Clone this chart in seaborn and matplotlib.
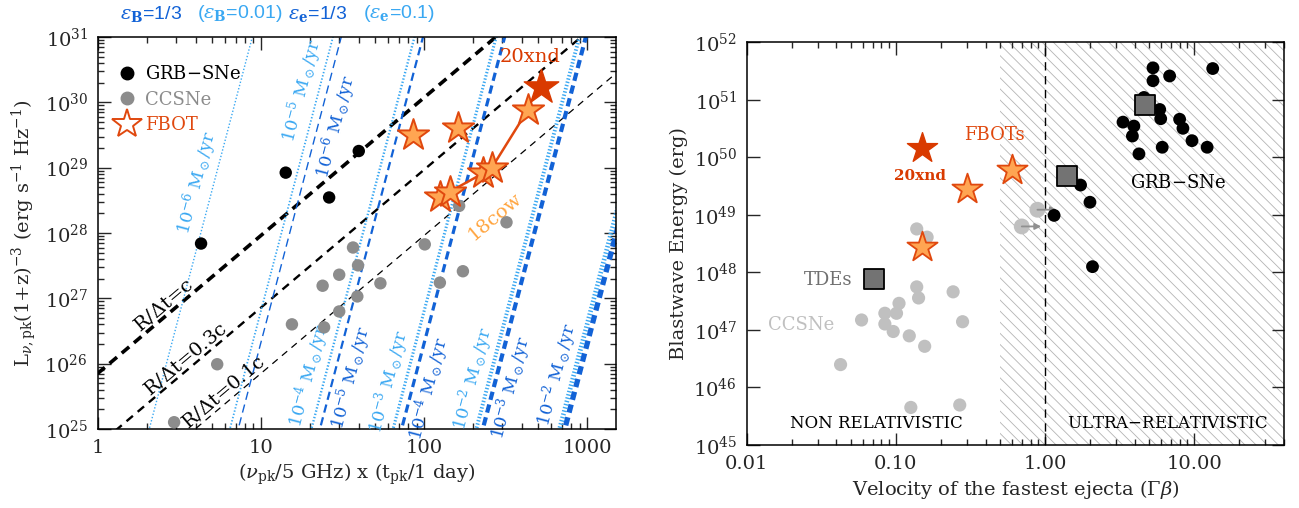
import numpy as np
import pandas as pd
import matplotlib
matplotlib.use("Agg")
import matplotlib.pyplot as plt
import seaborn as sns
from matplotlib.lines import Line2D
from matplotlib.ticker import FixedLocator, FixedFormatter, LogLocator, NullFormatter, NullLocator
import matplotlib.transforms as mtransforms

# ---------------- left panel data ----------------
grb_nut = [4.3, 14.2, 26.2, 39.8]
grb_lum = [6.9e27, 8.4e28, 3.5e28, 1.8e29]

cc_nut = [2.94, 5.4, 15.5, 23.9, 24.4, 30.2, 30.2, 36.7, 39.4, 39.0, 54.0, 101, 125, 164, 173, 320]
cc_lum = [1.27e25, 9.8e25, 4.0e26, 1.56e27, 3.6e26, 2.3e27, 6.3e26, 6.0e27, 3.2e27, 1.07e27,
          1.7e27, 6.7e27, 1.74e27, 2.6e28, 2.6e27, 1.46e28]

fbot_nut = [85.7, 161.6]
fbot_lum = [3.2e29, 4.0e29]

cow_nut = [124.8, 143.7, 230, 259, 433]
cow_lum = [3.6e28, 4.3e28, 8.2e28, 9.8e28, 7.7e29]

xnd_nut = [518]
xnd_lum = [1.74e30]

# R/dt lines: L = L0 (beta x)^(19/9)
beta_vals = [1.0, 0.3, 0.1]
beta_names = ["R/$\\Delta$t=c", "R/$\\Delta$t=0.3c", "R/$\\Delta$t=0.1c"]
L0 = 10 ** 25.85

# mass-loss lines: L = 1e25 (x / x25)^9.5
mdot_lo_exp = [-6, -5, -4, -3, -2, -1]          # eps_B = 0.01
mdot_lo_x25 = [2.07, 6.46, 20.4, 64.6, 209, 677]
mdot_hi_exp = [-6, -5, -4, -3, -2]              # eps_B = 1/3
mdot_hi_x25 = [7.26, 23.0, 72.8, 229, 728]
mdot_lo_lab = [10 ** 28.71, 10 ** 30.12, 10 ** 25.75, 10 ** 25.66, 10 ** 25.70, None]
mdot_hi_lab = [10 ** 29.70, 10 ** 25.85, 10 ** 25.68, 10 ** 25.70, 10 ** 25.75]
mdot_hi_side = [1, 1, 1, 1, -1]                 # 1: right of line, -1: left

# ---------------- right panel data ----------------
grb_v = [5.29, 13.3, 6.84, 5.29, 4.6, 5.87, 5.96, 3.33, 3.94, 7.98, 8.4, 3.85, 9.66, 6.1, 12.2,
         4.26, 1.73, 2.0, 1.15, 2.08]
grb_E = [3.6e51, 3.5e51, 2.6e51, 2.15e51, 1.1e51, 6.8e50, 4.7e50, 4.1e50, 3.5e50, 4.6e50, 3.2e50,
         2.35e50, 1.95e50, 1.5e50, 1.5e50, 1.15e50, 3.3e49, 1.66e49, 9.8e48, 1.26e48]
sq_v = [4.65, 1.40]
sq_E = [8e50, 4.8e49]
tde_v = [0.0716]
tde_E = [7.6e47]
lim_v = [0.889, 0.698]
lim_E = [1.23e49, 6.3e48]
ccr_v = [0.138, 0.162, 0.138, 0.242, 0.142, 0.105, 0.0844, 0.101, 0.0589, 0.0844, 0.28, 0.096,
         0.123, 0.156, 0.0426, 0.126, 0.268]
ccr_E = [5.7e48, 4.1e48, 5.6e47, 4.6e47, 3.6e47, 2.9e47, 1.95e47, 1.95e47, 1.49e47, 1.27e47,
         1.39e47, 9.4e46, 7.9e46, 5.2e46, 2.5e46, 4.5e45, 4.96e45]
fbr_v = [0.149, 0.298, 0.596]
fbr_E = [2.8e48, 2.8e49, 6.0e49]
xndr_v = [0.149]
xndr_E = [1.45e50]

# colours
DARKB = "#1262d6"
LIGHTB = "#3aa8f2"
STARF = "#ffa552"
STARE = "#e0480e"
XND = "#d93a00"

sns.set_style("ticks")
plt.rcParams["font.family"] = ["DejaVu Serif"]
plt.rcParams["mathtext.fontset"] = "dejavuserif"
plt.rcParams["lines.scale_dashes"] = False
plt.rcParams["hatch.linewidth"] = 0.6
plt.rcParams["hatch.color"] = "#b4b4b4"

fig = plt.figure(figsize=(12.99, 5.08), dpi=100)
ax1 = fig.add_axes([0.0752, 0.1555, 0.399, 0.7716])
ax2 = fig.add_axes([0.5748, 0.124, 0.4137, 0.7927])

# ================= LEFT =================
ax1.set_xscale("log")
ax1.set_yscale("log")
ax1.set_xlim(1, 1500)
ax1.set_ylim(1e25, 1e31)

xx = np.array([0.5, 3000.0])
for beta, lw, dash in zip(beta_vals, [2.6, 1.7, 0.9], [(7, 4.5), (6, 4.5), (5, 4)]):
    ax1.plot(xx, L0 * (beta * xx) ** (19 / 9), color="k", lw=lw, dashes=dash, zorder=2)

lw_lo = [1.0, 1.3, 1.7, 2.2, 2.8, 3.4]
lw_hi = [1.0, 1.6, 2.3, 3.0, 3.8]
for x25, lw in zip(mdot_lo_x25, lw_lo):
    xs = np.array([x25 * 0.8, x25 * 10 ** (6.5 / 9.5)])
    ax1.plot(xs, 1e25 * (xs / x25) ** 9.5, color=LIGHTB, lw=lw, dashes=(1.0, 1.4), zorder=2)
for x25, lw in zip(mdot_hi_x25, lw_hi):
    xs = np.array([x25 * 0.8, x25 * 10 ** (6.5 / 9.5)])
    ax1.plot(xs, 1e25 * (xs / x25) ** 9.5, color=DARKB, lw=lw, dashes=(6, 3.5), zorder=2)


def line_angle(ax, x, y, k):
    p0 = ax.transData.transform((x, y))
    p1 = ax.transData.transform((x * 1.2, y * 1.2 ** k))
    return np.degrees(np.arctan2(p1[1] - p0[1], p1[0] - p0[0]))


def along(ax, x, y, k, s, color, size, pad, side=-1):
    # side -1: text above (left of steep line), 1: below (right)
    ang = line_angle(ax, x, y, k)
    th = np.radians(ang)
    d = -side * pad
    tr = mtransforms.offset_copy(ax.transData, fig=fig, x=-np.sin(th) * d,
                                 y=np.cos(th) * d, units="points")
    ax.text(x, y, s, transform=tr, rotation=ang, rotation_mode="anchor",
            ha="center", va="bottom" if side < 0 else "top", color=color,
            fontsize=size, zorder=3)


for e, x25, ly in zip(mdot_lo_exp, mdot_lo_x25, mdot_lo_lab):
    if ly is None:
        continue
    along(ax1, x25 * (ly / 1e25) ** (1 / 9.5), ly, 9.5,
          "10$^{%d}$ M$_\\odot$/yr" % e, LIGHTB, 12.5, 2.5, -1)
for e, x25, ly, sd in zip(mdot_hi_exp, mdot_hi_x25, mdot_hi_lab, mdot_hi_side):
    along(ax1, x25 * (ly / 1e25) ** (1 / 9.5), ly, 9.5,
          "10$^{%d}$ M$_\\odot$/yr" % e, DARKB, 12.5, 3 if sd > 0 else 6, sd)

for beta, name, lx in zip(beta_vals, beta_names, [2.78, 3.76, 6.46]):
    along(ax1, lx, L0 * (beta * lx) ** (19 / 9), 19 / 9, name, "k", 14, 0)

sns.scatterplot(x=cc_nut, y=cc_lum, ax=ax1, color="#8c8c8c", s=80, edgecolor="none", zorder=4)
sns.scatterplot(x=grb_nut, y=grb_lum, ax=ax1, color="k", s=80, edgecolor="none", zorder=4)
ax1.plot(cow_nut, cow_lum, color=STARE, lw=1.8, zorder=5)
sns.scatterplot(x=fbot_nut + cow_nut, y=fbot_lum + cow_lum, ax=ax1, marker="*", s=560,
                color=STARF, edgecolor=STARE, linewidth=1.4, zorder=6)
sns.scatterplot(x=xnd_nut, y=xnd_lum, ax=ax1, marker="*", s=680, color=XND,
                edgecolor=XND, linewidth=1, zorder=7)

ax1.text(444, 5.0e30, "20xnd", color=XND, fontsize=14, ha="center", va="center")
ax1.text(271, 1.78e28, "18cow", color="#ffa540", fontsize=14, ha="center", va="center",
         rotation=40)

handles = [Line2D([], [], ls="none", marker="o", ms=9, mfc="k", mec="k"),
           Line2D([], [], ls="none", marker="o", ms=9, mfc="#8c8c8c", mec="#8c8c8c"),
           Line2D([], [], ls="none", marker="*", ms=22, mfc="white", mec=STARE, mew=1.4)]
ax1.legend(handles, ["GRB$-$SNe", "CCSNe", "FBOT"], loc="upper left", frameon=False,
           fontsize=13, handletextpad=0.2, labelspacing=0.42, borderaxespad=0.4,
           handlelength=1.6, labelcolor=["k", "#8c8c8c", STARE],
           bbox_to_anchor=(0.0, 0.965))

ax1.xaxis.set_major_locator(FixedLocator([1, 10, 100, 1000]))
ax1.xaxis.set_major_formatter(FixedFormatter(["1", "10", "100", "1000"]))
ax1.xaxis.set_minor_locator(LogLocator(base=10, subs=np.arange(2, 10)))
ax1.xaxis.set_minor_formatter(NullFormatter())
ax1.yaxis.set_major_locator(FixedLocator([10.0 ** k for k in range(25, 32)]))
ax1.yaxis.set_major_formatter(FixedFormatter(["10$^{%d}$" % k for k in range(25, 32)]))
ax1.yaxis.set_minor_locator(LogLocator(base=10, subs=np.arange(2, 10)))
ax1.yaxis.set_minor_formatter(NullFormatter())
ax1.set_xlabel("($\\nu_{\\rm pk}$/5 GHz) x (t$_{\\rm pk}$/1 day)", fontsize=14)
ax1.set_ylabel("L$_{\\nu,\\rm pk}$(1+z)$^{-3}$ (erg s$^{-1}$ Hz$^{-1}$)", fontsize=14)

# header
for xp, s, c in [(120, "$\\epsilon_{\\mathbf{B}}$=1/3", DARKB),
                 (197, "($\\epsilon_{\\mathbf{B}}$=0.01)", LIGHTB),
                 (288, "$\\epsilon_{\\mathbf{e}}$=1/3", DARKB),
                 (363, "($\\epsilon_{\\mathbf{e}}$=0.1)", LIGHTB)]:
    fig.text(xp / 1299, 1 - 14 / 508, s, color=c, fontsize=14, family="Liberation Sans",
             ha="left", va="center")

# ================= RIGHT =================
ax2.set_xscale("log")
ax2.set_yscale("log")
ax2.set_xlim(0.01, 40)
ax2.set_ylim(1e45, 1e52)
ax2.axvspan(0.5, 40, facecolor="none", edgecolor="#b4b4b4", hatch="\\\\\\", lw=0, zorder=0)
ax2.axvline(1.0, color="k", lw=1.0, dashes=(6, 4), zorder=1)

sns.scatterplot(x=ccr_v, y=ccr_E, ax=ax2, color="#c0c0c0", s=90, edgecolor="none", zorder=3)
sns.scatterplot(x=lim_v, y=lim_E, ax=ax2, color="#c0c0c0", s=130, edgecolor="none", zorder=3)
for v, e in zip(lim_v, lim_E):
    ax2.annotate("", xy=(v * 1.35, e), xytext=(v, e),
                 arrowprops=dict(arrowstyle="-|>", color="#909090", lw=1.3,
                                 mutation_scale=9, shrinkA=0, shrinkB=0), zorder=3)
sns.scatterplot(x=grb_v, y=grb_E, ax=ax2, color="k", s=85, edgecolor="none", zorder=4)
sns.scatterplot(x=sq_v + tde_v, y=sq_E + tde_E, ax=ax2, marker="s", s=200, color="#737373",
                edgecolor="k", linewidth=1.3, zorder=5)
sns.scatterplot(x=fbr_v, y=fbr_E, ax=ax2, marker="*", s=520, color=STARF,
                edgecolor=STARE, linewidth=1.3, zorder=6)
sns.scatterplot(x=xndr_v, y=xndr_E, ax=ax2, marker="*", s=520, color=XND,
                edgecolor=XND, linewidth=1, zorder=6)

ax2.text(0.145, 4.8e49, "20xnd", color=XND, fontsize=11, fontweight="bold", ha="center", va="center")
ax2.text(0.46, 2.4e50, "FBOTs", color=STARE, fontsize=13, ha="center", va="center")
ax2.text(7.74, 3.6e49, "GRB$-$SNe", color="k", fontsize=13, ha="center", va="center")
ax2.text(0.035, 7.4e47, "TDEs", color="#707070", fontsize=13, ha="center", va="center")
ax2.text(0.0233, 1.23e47, "CCSNe", color="#c0c0c0", fontsize=13, ha="center", va="center")
ax2.text(0.0743, 2.4e45, "NON RELATIVISTIC", color="k", fontsize=12, ha="center", va="center")
ax2.text(6.67, 2.4e45, "ULTRA$-$RELATIVISTIC", color="k", fontsize=12, ha="center", va="center")

ax2.xaxis.set_major_locator(FixedLocator([0.01, 0.1, 1, 10]))
ax2.xaxis.set_major_formatter(FixedFormatter(["0.01", "0.10", "1.00", "10.00"]))
ax2.xaxis.set_minor_locator(LogLocator(base=10, subs=np.arange(2, 10)))
ax2.xaxis.set_minor_formatter(NullFormatter())
ax2.yaxis.set_major_locator(FixedLocator([10.0 ** k for k in range(45, 53)]))
ax2.yaxis.set_major_formatter(FixedFormatter(["10$^{%d}$" % k for k in range(45, 53)]))
ax2.yaxis.set_minor_locator(NullLocator())
ax2.set_xlabel("Velocity of the fastest ejecta ($\\Gamma\\beta$)", fontsize=14)
ax2.set_ylabel("Blastwave Energy (erg)", fontsize=14)

for ax in (ax1, ax2):
    ax.tick_params(which="both", direction="in", top=True, right=True, labelsize=14, width=1)
    ax.tick_params(which="major", length=9, pad=7)
    ax.tick_params(which="minor", length=4.5)
    for sp in ax.spines.values():
        sp.set_linewidth(1.1)
        sp.set_color("k")

fig.savefig("out.png", dpi=100)
